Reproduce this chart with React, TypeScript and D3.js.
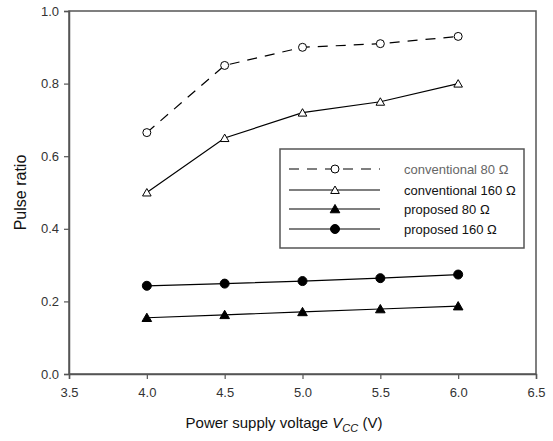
import React, { useRef, useEffect } from 'react';
import * as d3 from 'd3';

const voltages = [4.0, 4.5, 5.0, 5.5, 6.0];
const conv80 = [0.665, 0.85, 0.9, 0.91, 0.93];
const conv160 = [0.5, 0.65, 0.72, 0.75, 0.8];
const prop80 = [0.155, 0.163, 0.171, 0.179, 0.187];
const prop160 = [0.243, 0.249, 0.256, 0.264, 0.274];
const xTicks = [3.5, 4.0, 4.5, 5.0, 5.5, 6.0, 6.5];
const yTicks = [0.0, 0.2, 0.4, 0.6, 0.8, 1.0];
const legendLabels = ['conventional 80 Ω', 'conventional 160 Ω', 'proposed 80 Ω', 'proposed 160 Ω'];

const App = () => {
  const svgRef = useRef<SVGSVGElement>(null);

  useEffect(() => {
    const width = 553;
    const height = 441;
    const svg = d3.select(svgRef.current);
    svg.selectAll('*').remove();
    svg.attr('width', width).attr('height', height);

    const margin = { top: 11, right: 17, bottom: 67, left: 69 };
    const innerWidth = width - margin.left - margin.right;
    const innerHeight = height - margin.top - margin.bottom;
    const font = 'Liberation Sans, Arial, sans-serif';

    const x = d3.scaleLinear().domain([3.5, 6.5]).range([0, innerWidth]);
    const y = d3.scaleLinear().domain([0, 1]).range([innerHeight, 0]);

    const g = svg.append('g').attr('transform', `translate(${margin.left}, ${margin.top})`);

    // frame
    g.append('rect')
      .attr('x', 0).attr('y', 0)
      .attr('width', innerWidth).attr('height', innerHeight)
      .attr('fill', 'none')
      .attr('stroke', '#555')
      .attr('stroke-width', 1.5);

    // axes
    const xAxis = g.append('g')
      .attr('transform', `translate(0, ${innerHeight})`)
      .call(d3.axisBottom(x).tickValues(xTicks).tickFormat(d3.format('.1f')).tickSizeOuter(0).tickSize(5).tickPadding(9));
    const yAxis = g.append('g')
      .call(d3.axisLeft(y).tickValues(yTicks).tickFormat(d3.format('.1f')).tickSizeOuter(0).tickSize(5).tickPadding(5));
    [xAxis, yAxis].forEach(a => {
      a.select('.domain').attr('stroke', '#555').attr('stroke-width', 1.5);
      a.selectAll('.tick line').attr('stroke', '#555').attr('stroke-width', 1.2);
      a.selectAll('.tick text').attr('fill', '#333').style('font-family', font).style('font-size', '13px');
    });

    // axis labels
    svg.append('text')
      .attr('transform', `translate(26, ${margin.top + innerHeight / 2}) rotate(-90)`)
      .attr('text-anchor', 'middle')
      .style('font-family', font)
      .style('font-size', '16px')
      .attr('fill', '#111')
      .text('Pulse ratio');

    const xl = svg.append('text')
      .attr('x', 284)
      .attr('y', 428)
      .attr('text-anchor', 'middle')
      .style('font-family', font)
      .style('font-size', '15px')
      .attr('fill', '#111');
    xl.append('tspan').text('Power supply voltage ');
    xl.append('tspan').style('font-style', 'italic').text('V');
    xl.append('tspan').style('font-style', 'italic').style('font-size', '11px').attr('dy', 4).text('CC');
    xl.append('tspan').attr('dy', -4).text(' (V)');

    const series = [
      { values: conv80, dash: '10,8', marker: 'circle', fill: 'white' },
      { values: conv160, dash: null, marker: 'triangle', fill: 'white' },
      { values: prop80, dash: null, marker: 'triangle', fill: '#000' },
      { values: prop160, dash: null, marker: 'circle', fill: '#000' },
    ];

    const line = d3.line<number>()
      .x((_, i) => x(voltages[i]))
      .y(d => y(d));

    const drawMarker = (sel: any, type: string, fill: string, cx: number, cy: number) => {
      if (type === 'circle') {
        sel.append('circle')
          .attr('cx', cx).attr('cy', cy)
          .attr('r', fill === 'white' ? 4 : 4.5)
          .attr('fill', fill)
          .attr('stroke', '#000')
          .attr('stroke-width', 1);
      } else {
        const sym = d3.symbol().type(d3.symbolTriangle).size(fill === 'white' ? 32 : 40);
        sel.append('path')
          .attr('d', sym())
          .attr('transform', `translate(${cx}, ${cy + 1})`)
          .attr('fill', fill)
          .attr('stroke', '#000')
          .attr('stroke-width', 1);
      }
    };

    series.forEach(s => {
      g.append('path')
        .datum(s.values)
        .attr('d', line)
        .attr('fill', 'none')
        .attr('stroke', '#000')
        .attr('stroke-width', 1.2)
        .attr('stroke-dasharray', s.dash);
      s.values.forEach((v, i) => drawMarker(g, s.marker, s.fill, x(voltages[i]), y(v)));
    });

    // legend
    const legend = svg.append('g').attr('transform', 'translate(280, 149)');
    legend.append('rect')
      .attr('width', 244).attr('height', 99)
      .attr('fill', 'white')
      .attr('stroke', '#555')
      .attr('stroke-width', 1.5);
    const rowY = [20, 41, 60, 80];
    series.forEach((s, i) => {
      legend.append('line')
        .attr('x1', 9).attr('x2', 100)
        .attr('y1', rowY[i]).attr('y2', rowY[i])
        .attr('stroke', '#000')
        .attr('stroke-width', 1.2)
        .attr('stroke-dasharray', s.dash);
      drawMarker(legend, s.marker, s.fill, 55, rowY[i]);
      legend.append('text')
        .attr('x', 124)
        .attr('y', rowY[i] + 4.5)
        .style('font-family', font)
        .style('font-size', '13px')
        .attr('fill', i === 0 ? '#666' : '#111')
        .text(legendLabels[i]);
    });
  }, []);

  return (
    <div style={{ position: 'absolute', left: 0, top: 0 }}>
      <svg ref={svgRef}></svg>
    </div>
  );
};

export default App;
